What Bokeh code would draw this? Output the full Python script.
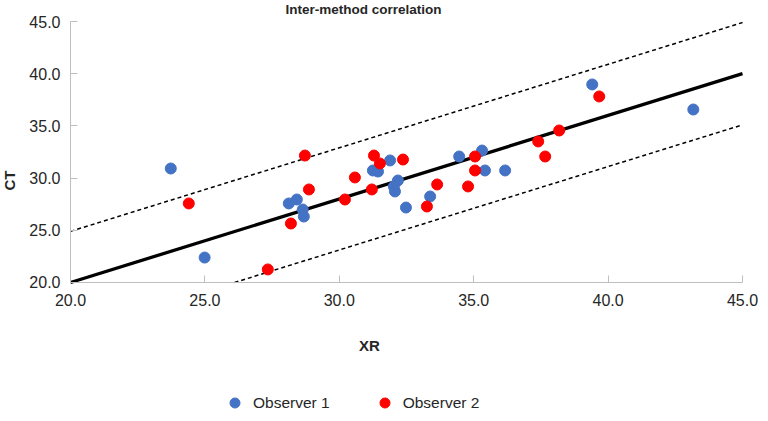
from bokeh.plotting import figure
from bokeh.models import Range1d, FixedTicker, PrintfTickFormatter, Legend, LegendItem, Label
from bokeh.embed import file_html
from bokeh.resources import INLINE

# Observer 1 (XR, CT)
obs1_xr = [23.73, 24.99, 28.12, 28.42, 28.64, 28.68, 31.25, 31.44, 31.89, 32.18,
           32.03, 32.07, 32.48, 33.38, 34.46, 35.31, 35.42, 36.17, 39.41, 43.17]
obs1_ct = [30.92, 22.39, 27.57, 27.95, 26.99, 26.32, 30.73, 30.63, 31.69, 29.77,
           29.20, 28.72, 27.18, 28.24, 32.07, 32.64, 30.73, 30.73, 38.97, 36.57]

# Observer 2 (XR, CT)
obs2_xr = [24.40, 27.34, 28.72, 28.87, 28.20, 30.21, 30.58, 31.29, 31.51, 31.21,
           32.37, 33.64, 33.26, 34.79, 35.05, 35.05, 37.40, 37.66, 38.18, 39.67]
obs2_ct = [27.57, 21.25, 32.16, 28.91, 25.65, 27.95, 30.06, 32.16, 31.40, 28.91,
           31.78, 29.39, 27.28, 29.20, 32.07, 30.73, 33.51, 32.07, 34.56, 37.82]

# regression line and limits (end points)
fit_x = [20.0, 45.0]
fit_y = [20.0, 40.0]
upper_x = [20.0, 45.0]
upper_y = [24.9, 44.9]
lower_x = [26.1, 45.0]
lower_y = [20.0, 35.1]

ticks = [20, 25, 30, 35, 40, 45]
axis_min, axis_max = 20, 45

FONT = "Liberation Sans"
TXT = "#262626"

W, H = 760, 413
# frame fills the whole figure; axes are pinned at the 20.0 values
p = figure(width=W, height=H, output_backend="svg", toolbar_location=None,
           x_range=Range1d(17.3958, 45.6696), y_range=Range1d(7.452, 47.0115),
           min_border=0)
p.outline_line_color = None
p.xgrid.visible = False
p.ygrid.visible = False

for ax in (p.xaxis[0], p.yaxis[0]):
    ax.fixed_location = axis_min
    ax.bounds = (axis_min, axis_max)
    ax.ticker = FixedTicker(ticks=ticks)
    ax.formatter = PrintfTickFormatter(format="%.1f")
    ax.axis_line_color = "#BFBFBF"
    ax.major_tick_line_color = "#BFBFBF"
    ax.major_tick_in = 7
    ax.major_tick_out = 0
    ax.minor_tick_line_color = None
    ax.major_label_text_font = FONT
    ax.major_label_text_font_size = "16px"
    ax.major_label_text_color = TXT
p.xaxis.major_label_standoff = 12
p.yaxis.major_label_standoff = 10

p.line(upper_x, upper_y, line_color="black", line_width=1.5, line_dash="4 3")
p.line(lower_x, lower_y, line_color="black", line_width=1.5, line_dash="4 3")
p.line(fit_x, fit_y, line_color="black", line_width=3.3)

r1 = p.scatter(obs1_xr, obs1_ct, size=11, fill_color="#4472C4", line_color="#4472C4")
r2 = p.scatter(obs2_xr, obs2_ct, size=11, fill_color="#FF0000", line_color="#FF0000")

p.add_layout(Label(x=30.90, y=46.15, text="Inter-method correlation", text_font=FONT,
                   text_font_style="bold", text_font_size="13.5px", text_color=TXT,
                   text_align="center", text_baseline="middle"))
p.add_layout(Label(x=31.12, y=13.97, text="XR", text_font=FONT, text_font_style="bold",
                   text_font_size="15px", text_color=TXT, text_align="center",
                   text_baseline="middle"))
p.add_layout(Label(x=17.73, y=29.77, text="CT", text_font=FONT, text_font_style="bold",
                   text_font_size="15px", text_color=TXT, text_align="center",
                   text_baseline="middle", angle=1.5708))

legend = Legend(items=[LegendItem(label="Observer 1", renderers=[r1]),
                       LegendItem(label="Observer 2", renderers=[r2])],
                orientation="horizontal", location=(222, -2),
                padding=0, margin=0, spacing=42, glyph_width=25, glyph_height=25,
                label_standoff=6, label_text_font=FONT, label_text_font_size="15.5px",
                label_text_color=TXT, border_line_color=None, background_fill_alpha=0)
p.add_layout(legend, "center")

open("out.html", "w").write(file_html(p, INLINE))
